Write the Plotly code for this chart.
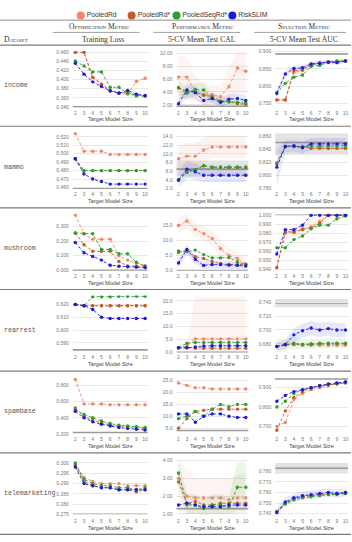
import plotly.graph_objects as go

W, H = 352, 542

# ---------------- data ----------------
X = [2, 3, 4, 5, 6, 7, 8, 9, 10]
SERIES = ["PooledRd", "PooledRd*", "PooledSeqRd*", "RiskSLIM"]
DATASETS = ["income", "mammo", "mushroom", "rearrest", "spambase", "telemarketing"]
GROUPS = ["Optimization Metric", "Performance Metric", "Selection Metric"]
METRICS = ["Training Loss", "5-CV Mean Test CAL", "5-CV Mean Test AUC"]
X_TITLE = "Target Model Size"
DATASET_HEADER = "Dataset"

# order of inner lists: PooledRd, PooledRd*, PooledSeqRd*, RiskSLIM
income_loss = [
    [0.460, 0.460, 0.405, 0.390, 0.376, 0.370, 0.368, 0.396, 0.403],
    [0.460, 0.460, 0.405, 0.390, 0.376, 0.371, 0.371, 0.366, 0.364],
    [0.441, 0.430, 0.417, 0.417, 0.383, 0.383, 0.370, 0.364, 0.364],
    [0.436, 0.412, 0.395, 0.385, 0.375, 0.370, 0.376, 0.368, 0.365],
]
income_cal = [
    [6.3, 6.3, 4.0, 3.6, 3.6, 3.3, 4.8, 7.7, 7.2],
    [4.7, 4.0, 4.0, 3.5, 3.3, 2.6, 2.5, 2.2, 2.1],
    [4.6, 3.8, 4.4, 4.3, 3.0, 2.5, 2.5, 2.4, 2.3],
    [2.2, 4.3, 3.9, 2.7, 3.0, 2.4, 2.9, 3.0, 2.7],
]
income_auc = [
    [0.760, 0.760, 0.840, 0.845, 0.862, 0.868, 0.870, 0.872, 0.873],
    [0.760, 0.760, 0.845, 0.847, 0.862, 0.866, 0.870, 0.871, 0.872],
    [0.778, 0.808, 0.826, 0.832, 0.857, 0.860, 0.870, 0.873, 0.873],
    [0.780, 0.835, 0.851, 0.853, 0.864, 0.866, 0.869, 0.868, 0.873],
]
mammo_loss = [
    [0.524, 0.503, 0.503, 0.503, 0.499, 0.499, 0.499, 0.499, 0.499],
    [0.494, 0.480, 0.480, 0.480, 0.480, 0.480, 0.480, 0.480, 0.480],
    [0.494, 0.480, 0.480, 0.480, 0.480, 0.480, 0.480, 0.480, 0.480],
    [0.494, 0.476, 0.470, 0.467, 0.464, 0.464, 0.464, 0.464, 0.464],
]
mammo_cal = [
    [8.9, 9.5, 9.5, 10.9, 11.6, 11.6, 11.6, 11.6, 11.6],
    [4.0, 5.8, 6.4, 7.3, 6.9, 6.9, 6.9, 6.9, 6.9],
    [4.0, 5.8, 6.4, 7.3, 7.0, 7.0, 7.0, 7.0, 7.0],
    [4.0, 6.5, 5.9, 5.1, 5.1, 5.1, 5.1, 5.1, 5.1],
]
mammo_auc = [
    [0.820, 0.845, 0.845, 0.845, 0.842, 0.842, 0.842, 0.842, 0.842],
    [0.818, 0.845, 0.845, 0.844, 0.842, 0.842, 0.842, 0.842, 0.842],
    [0.818, 0.845, 0.845, 0.845, 0.846, 0.846, 0.846, 0.846, 0.846],
    [0.813, 0.845, 0.846, 0.843, 0.849, 0.849, 0.849, 0.849, 0.849],
]
mushroom_loss = [
    [0.378, 0.250, 0.213, 0.213, 0.213, 0.100, 0.070, 0.050, 0.030],
    [0.255, 0.175, 0.130, 0.130, 0.130, 0.060, 0.030, 0.030, 0.020],
    [0.255, 0.250, 0.250, 0.143, 0.143, 0.113, 0.113, 0.055, 0.030],
    [0.190, 0.120, 0.095, 0.070, 0.035, 0.028, 0.025, 0.022, 0.020],
]
mushroom_cal = [
    [15.0, 16.5, 13.7, 12.3, 10.7, 7.3, 5.0, 4.0, 2.2],
    [6.0, 6.7, 4.6, 4.0, 3.0, 2.3, 2.0, 2.0, 2.0],
    [6.5, 6.3, 6.8, 5.3, 4.2, 4.2, 4.3, 2.9, 2.0],
    [2.5, 7.0, 3.7, 1.7, 2.0, 2.0, 1.8, 1.7, 1.5],
]
mushroom_auc = [
    [0.942, 0.980, 0.982, 0.985, 0.987, 0.993, 1.000, 1.000, 1.000],
    [0.942, 0.982, 0.981, 0.984, 0.986, 0.991, 1.000, 1.000, 1.000],
    [0.964, 0.964, 0.973, 0.977, 0.985, 0.989, 0.989, 0.996, 0.999],
    [0.957, 0.984, 0.984, 0.989, 1.000, 1.000, 1.000, 1.000, 1.000],
]
rearrest_loss = [
    [0.620, 0.619, 0.619, 0.619, 0.619, 0.619, 0.619, 0.619, 0.619],
    [0.620, 0.619, 0.619, 0.619, 0.619, 0.619, 0.619, 0.619, 0.619],
    [0.620, 0.619, 0.626, 0.626, 0.626, 0.6263, 0.6263, 0.6263, 0.6263],
    [0.620, 0.619, 0.616, 0.610, 0.609, 0.609, 0.609, 0.609, 0.609],
]
rearrest_cal = [
    [1.7, 2.5, 5.2, 5.2, 5.2, 5.2, 5.2, 5.2, 5.2],
    [1.7, 1.7, 1.5, 1.5, 1.5, 1.5, 1.5, 1.5, 1.5],
    [1.7, 3.5, 3.8, 3.8, 3.8, 3.8, 3.8, 3.8, 3.8],
    [1.7, 1.7, 2.0, 2.4, 2.5, 2.5, 2.5, 2.5, 2.5],
]
rearrest_auc = [
    [0.676, 0.678, 0.679, 0.678, 0.678, 0.678, 0.678, 0.678, 0.678],
    [0.676, 0.679, 0.679, 0.679, 0.679, 0.680, 0.680, 0.680, 0.680],
    [0.676, 0.679, 0.681, 0.679, 0.680, 0.681, 0.681, 0.681, 0.681],
    [0.676, 0.679, 0.693, 0.699, 0.703, 0.700, 0.702, 0.700, 0.700],
]
spambase_loss = [
    [0.870, 0.570, 0.570, 0.570, 0.560, 0.560, 0.560, 0.560, 0.560],
    [0.520, 0.420, 0.370, 0.340, 0.310, 0.300, 0.290, 0.280, 0.270],
    [0.500, 0.440, 0.400, 0.360, 0.330, 0.310, 0.300, 0.290, 0.280],
    [0.480, 0.400, 0.350, 0.320, 0.300, 0.280, 0.270, 0.260, 0.250],
]
spambase_cal = [
    [24.0, 23.0, 22.0, 22.0, 21.5, 21.5, 21.5, 21.5, 21.5],
    [5.0, 9.0, 12.0, 12.5, 13.0, 13.0, 13.0, 13.0, 13.0],
    [9.0, 10.0, 12.0, 10.0, 13.0, 15.0, 14.0, 15.0, 15.0],
    [11.0, 11.0, 7.5, 10.0, 11.0, 11.0, 10.0, 9.5, 9.5],
]
spambase_auc = [
    [0.700, 0.720, 0.840, 0.870, 0.890, 0.900, 0.910, 0.920, 0.925],
    [0.680, 0.780, 0.850, 0.880, 0.900, 0.910, 0.915, 0.920, 0.930],
    [0.800, 0.830, 0.870, 0.890, 0.900, 0.910, 0.915, 0.920, 0.925],
    [0.830, 0.860, 0.880, 0.890, 0.900, 0.910, 0.920, 0.925, 0.930],
]
telemarketing_loss = [
    [0.299, 0.293, 0.291, 0.290, 0.290, 0.290, 0.289, 0.289, 0.289],
    [0.299, 0.291, 0.289, 0.288, 0.288, 0.287, 0.287, 0.286, 0.287],
    [0.300, 0.292, 0.290, 0.289, 0.289, 0.288, 0.288, 0.287, 0.288],
    [0.298, 0.290, 0.289, 0.288, 0.288, 0.287, 0.287, 0.287, 0.287],
]
telemarketing_cal = [
    [3.0, 2.0, 1.9, 1.9, 1.9, 1.9, 1.8, 1.9, 1.9],
    [2.8, 1.6, 1.7, 1.5, 1.5, 1.6, 1.6, 1.6, 1.6],
    [3.3, 1.5, 1.5, 1.3, 1.5, 1.5, 1.4, 2.5, 2.5],
    [1.5, 1.6, 1.5, 1.4, 1.4, 1.4, 1.5, 1.5, 1.5],
]
telemarketing_auc = [
    [0.742, 0.750, 0.754, 0.757, 0.757, 0.758, 0.759, 0.759, 0.760],
    [0.742, 0.750, 0.754, 0.756, 0.757, 0.758, 0.758, 0.759, 0.759],
    [0.741, 0.749, 0.753, 0.755, 0.756, 0.757, 0.758, 0.758, 0.759],
    [0.741, 0.751, 0.755, 0.757, 0.758, 0.759, 0.760, 0.759, 0.760],
]

# reference (gray) values per dataset: loss, CAL, AUC
income_ref = [0.340, 1.8, 0.893]
mammo_ref = [0.4592, 6.5, 0.851]
mushroom_ref = [0.000, 0.0, 1.000]
rearrest_ref = [0.5845, 0.0, 0.739]
spambase_ref = [0.220, 4.0, 0.945]
telemarketing_ref = [0.2752, 1.3, 0.783]

# reference bands (lo, hi) where visible
mammo_cal_refband = (4.8, 8.5)
mammo_auc_refband = (0.832, 0.865)
income_auc_refband = (0.890, 0.896)
rearrest_auc_refband = (0.733, 0.745)
telemarketing_auc_refband = (0.778, 0.788)

# confidence bands (lo, hi) for some series
income_cal_bands = {
    "PooledRd": ([3.0, 3.0, 2.5, 2.3, 2.3, 2.0, 2.5, 4.0, 3.5],
                 [9.5, 9.5, 6.5, 5.5, 5.0, 5.0, 8.0, 10.3, 10.3]),
    "PooledSeqRd*": ([3.5, 2.8, 3.4, 3.3, 2.3, 1.9, 1.9, 1.9, 1.8],
                     [5.8, 4.8, 5.4, 5.3, 3.8, 3.2, 3.2, 3.0, 2.9]),
    "RiskSLIM": ([1.6, 3.2, 2.9, 2.0, 2.2, 1.8, 2.1, 2.2, 2.0],
                 [2.9, 5.3, 4.9, 3.5, 3.8, 3.1, 3.7, 3.8, 3.4]),
}
income_auc_bands = {
    "PooledRd": ([0.752, 0.752, 0.830, 0.836, 0.855, 0.861, 0.864, 0.866, 0.867],
                 [0.768, 0.768, 0.850, 0.854, 0.869, 0.874, 0.876, 0.878, 0.879]),
    "RiskSLIM": ([0.770, 0.826, 0.843, 0.846, 0.858, 0.860, 0.863, 0.862, 0.867],
                 [0.790, 0.844, 0.859, 0.860, 0.870, 0.872, 0.875, 0.874, 0.879]),
}
mammo_cal_bands = {
    "PooledRd": ([6.0, 6.5, 6.5, 8.0, 9.0, 9.0, 9.0, 9.0, 9.0],
                 [11.8, 12.5, 12.5, 13.8, 14.2, 14.2, 14.2, 14.2, 14.2]),
    "RiskSLIM": ([2.2, 4.5, 4.0, 3.5, 3.5, 3.5, 3.5, 3.5, 3.5],
                 [5.8, 8.5, 7.8, 6.7, 6.7, 6.7, 6.7, 6.7, 6.7]),
}
mammo_auc_bands = {
    "RiskSLIM": ([0.785, 0.836, 0.837, 0.834, 0.840, 0.840, 0.840, 0.840, 0.840],
                 [0.840, 0.854, 0.855, 0.852, 0.858, 0.858, 0.858, 0.858, 0.858]),
}
mushroom_cal_bands = {
    "PooledRd": ([12.5, 14.0, 11.2, 9.8, 8.2, 4.8, 2.5, 1.5, 0.5],
                 [17.5, 19.0, 16.2, 14.8, 13.2, 9.8, 7.5, 6.5, 3.9]),
    "RiskSLIM": ([1.0, 5.5, 2.2, 0.5, 0.6, 0.6, 0.5, 0.4, 0.3],
                 [4.0, 8.5, 5.2, 3.0, 3.4, 3.4, 3.1, 3.0, 2.7]),
}
mushroom_auc_bands = {
    "PooledRd": ([0.939, 0.974, 0.976, 0.979, 0.981, 0.987, 0.996, 0.996, 0.996],
                 [0.948, 0.986, 0.988, 0.991, 0.993, 0.999, 1.001, 1.001, 1.001]),
}
rearrest_cal_bands = {
    "PooledRd": ([1.2, 1.5, 0.0, 0.0, 0.0, 0.0, 0.0, 0.0, 0.0],
                 [2.2, 3.5, 21.5, 21.5, 21.5, 21.5, 21.5, 21.5, 21.5]),
}
rearrest_auc_bands = {
    "RiskSLIM": ([0.670, 0.672, 0.683, 0.689, 0.692, 0.690, 0.692, 0.690, 0.690],
                 [0.682, 0.686, 0.703, 0.709, 0.713, 0.710, 0.712, 0.710, 0.710]),
    "PooledSeqRd*": ([0.666, 0.671, 0.673, 0.672, 0.673, 0.674, 0.674, 0.674, 0.674],
                     [0.686, 0.687, 0.689, 0.687, 0.687, 0.688, 0.688, 0.688, 0.688]),
}
telemarketing_cal_bands = {
    "PooledRd": ([1.2, 1.0, 1.0, 1.0, 1.0, 1.0, 1.0, 1.0, 1.0],
                 [4.0, 3.5, 3.0, 3.0, 3.0, 3.0, 3.0, 3.2, 3.2]),
    "PooledSeqRd*": ([2.5, 1.0, 1.0, 0.9, 1.0, 1.0, 1.0, 1.2, 1.2],
                     [4.0, 2.1, 2.1, 1.8, 2.1, 2.1, 2.0, 3.9, 3.9]),
}
telemarketing_auc_bands = {
    "RiskSLIM": ([0.738, 0.747, 0.751, 0.753, 0.754, 0.755, 0.756, 0.755, 0.756],
                 [0.745, 0.755, 0.759, 0.761, 0.762, 0.763, 0.764, 0.763, 0.764]),
}

DATA = {
    "income": [income_loss, income_cal, income_auc],
    "mammo": [mammo_loss, mammo_cal, mammo_auc],
    "mushroom": [mushroom_loss, mushroom_cal, mushroom_auc],
    "rearrest": [rearrest_loss, rearrest_cal, rearrest_auc],
    "spambase": [spambase_loss, spambase_cal, spambase_auc],
    "telemarketing": [telemarketing_loss, telemarketing_cal, telemarketing_auc],
}
REFS = {
    "income": income_ref, "mammo": mammo_ref, "mushroom": mushroom_ref,
    "rearrest": rearrest_ref, "spambase": spambase_ref, "telemarketing": telemarketing_ref,
}
REF_BANDS = {
    ("mammo", 1): mammo_cal_refband, ("mammo", 2): mammo_auc_refband,
    ("income", 2): income_auc_refband, ("rearrest", 2): rearrest_auc_refband,
    ("telemarketing", 2): telemarketing_auc_refband,
}
SERIES_BANDS = {
    ("income", 1): income_cal_bands, ("income", 2): income_auc_bands,
    ("mammo", 1): mammo_cal_bands, ("mammo", 2): mammo_auc_bands,
    ("mushroom", 1): mushroom_cal_bands, ("mushroom", 2): mushroom_auc_bands,
    ("rearrest", 1): rearrest_cal_bands, ("rearrest", 2): rearrest_auc_bands,
    ("telemarketing", 1): telemarketing_cal_bands, ("telemarketing", 2): telemarketing_auc_bands,
}

# y tick labels per panel
Y_TICKS = {
    ("income", 0): [0.34, 0.36, 0.38, 0.40, 0.42, 0.44, 0.46],
    ("income", 1): [2, 4, 6, 8, 10],
    ("income", 2): [0.75, 0.80, 0.85, 0.90],
    ("mammo", 0): [0.46, 0.47, 0.48, 0.49, 0.50, 0.51, 0.52],
    ("mammo", 1): [2, 4, 6, 8, 10, 12, 14],
    ("mammo", 2): [0.78, 0.80, 0.82, 0.84, 0.86],
    ("mushroom", 0): [0.0, 0.1, 0.2, 0.3],
    ("mushroom", 1): [0, 5, 10, 15],
    ("mushroom", 2): [0.94, 0.95, 0.96, 0.97, 0.98, 0.99, 1.00],
    ("rearrest", 0): [0.59, 0.60, 0.61, 0.62],
    ("rearrest", 1): [0, 5, 10, 15, 20],
    ("rearrest", 2): [0.68, 0.70, 0.72, 0.74],
    ("spambase", 0): [0.2, 0.4, 0.6, 0.8],
    ("spambase", 1): [5, 10, 15, 20, 25],
    ("spambase", 2): [0.7, 0.8, 0.9],
    ("telemarketing", 0): [0.275, 0.280, 0.285, 0.290, 0.295, 0.300],
    ("telemarketing", 1): [1, 2, 3, 4],
    ("telemarketing", 2): [0.74, 0.75, 0.76, 0.77, 0.78],
}

# ---------------- layout / style ----------------
Y_RANGES = {
    ("income", 0): [0.3385, 0.464], ("income", 1): [1.6, 10.4], ("income", 2): [0.738, 0.903],
    ("mammo", 0): [0.458, 0.5255], ("mammo", 1): [1.9, 15.0], ("mammo", 2): [0.779, 0.867],
    ("mushroom", 0): [-0.003, 0.386], ("mushroom", 1): [-0.1, 18.9], ("mushroom", 2): [0.9385, 1.0015],
    ("rearrest", 0): [0.5825, 0.627], ("rearrest", 1): [-0.1, 22.1], ("rearrest", 2): [0.6675, 0.750],
    ("spambase", 0): [0.2, 0.9], ("spambase", 1): [2.5, 26.5], ("spambase", 2): [0.66, 0.955],
    ("telemarketing", 0): [0.2745, 0.302], ("telemarketing", 1): [0.9, 4.1], ("telemarketing", 2): [0.738, 0.792],
}
Y_FMT = {
    0: (".3f", ""), 1: (".1f", "%"), 2: (".3f", ""),
}
CAL_2DEC = {"income", "telemarketing"}

COLORS = {"PooledRd": "#f0876a", "PooledRd*": "#c65a2b",
          "PooledSeqRd*": "#2ca02c", "RiskSLIM": "#1a1ae0"}
RGB = {"PooledRd": (240, 135, 106), "PooledRd*": (198, 90, 43),
       "PooledSeqRd*": (44, 160, 44), "RiskSLIM": (26, 26, 224)}

ROW_TOP0, ROW_H = 43.0, 82.4
COL_DOM_PX = [(73, 148), (177, 249), (276, 349)]
COL_XRANGE = [(1.714, 10.286), (1.763, 10.296), (1.826, 10.29)]
TICK_FONT = dict(family="Liberation Sans", size=5, color="#777777")


def px_x(p):
    return p / W


def px_y(p):
    return 1 - p / H


def axid(k):
    return "" if k == 1 else str(k)


fig = go.Figure()
shapes, annotations = [], []
layout = dict(width=W, height=H, margin=dict(l=0, r=0, t=0, b=0),
              paper_bgcolor="white", plot_bgcolor="white", showlegend=False)

for r, ds in enumerate(DATASETS):
    top = ROW_TOP0 + r * ROW_H
    for c in range(3):
        k = r * 3 + c + 1
        xa, ya = "x" + axid(k), "y" + axid(k)
        key = (ds, c)
        # series confidence bands
        for s, (lo, hi) in SERIES_BANDS.get(key, {}).items():
            rr, gg, bb = RGB[s]
            fig.add_trace(go.Scatter(
                x=X + X[::-1], y=hi + lo[::-1], fill="toself",
                fillcolor=f"rgba({rr},{gg},{bb},0.10)", line=dict(width=0),
                mode="lines", hoverinfo="skip", showlegend=False, xaxis=xa, yaxis=ya))
        # series lines
        for s, vals in zip(SERIES, DATA[ds][c]):
            fig.add_trace(go.Scatter(
                x=X, y=vals, mode="lines+markers", name=s,
                line=dict(color=COLORS[s], width=0.9, dash="3px,2px"),
                marker=dict(color=COLORS[s], size=3.4),
                showlegend=False, xaxis=xa, yaxis=ya))
        # reference band and line
        if key in REF_BANDS:
            lo, hi = REF_BANDS[key]
            shapes.append(dict(type="rect", xref=f"{xa} domain", yref=ya, x0=0, x1=1,
                               y0=lo, y1=hi, fillcolor="rgba(150,150,150,0.28)",
                               line=dict(width=0), layer="below"))
        shapes.append(dict(type="line", xref=f"{xa} domain", yref=ya, x0=0, x1=1,
                           y0=REFS[ds][c], y1=REFS[ds][c],
                           line=dict(color="#9a9a9a", width=1.6), layer="below"))
        # axes
        d0, d1 = COL_DOM_PX[c]
        fmt, suf = Y_FMT[c]
        if c == 1 and ds in CAL_2DEC:
            fmt = ".2f"
        layout["xaxis" + axid(k)] = dict(
            domain=[px_x(d0), px_x(d1)], range=list(COL_XRANGE[c]), anchor=ya,
            tickvals=X, ticktext=[str(v) for v in X], tickfont=TICK_FONT,
            showgrid=False, zeroline=False, showline=False, ticks="",
            ticklabelstandoff=1, fixedrange=True)
        layout["yaxis" + axid(k)] = dict(
            domain=[px_y(top + 63.5), px_y(top + 6)], range=Y_RANGES[key], anchor=xa,
            tickvals=Y_TICKS[key], tickformat=fmt, ticksuffix=suf, tickfont=TICK_FONT,
            showgrid=True, gridcolor="#e8e8e8", gridwidth=0.6, zeroline=False,
            showline=False, ticks="", ticklabelstandoff=3, fixedrange=True)
        annotations.append(dict(
            text=X_TITLE, xref="paper", yref="paper", showarrow=False,
            x=px_x((d0 + d1) / 2), y=px_y(top + 75.5), xanchor="center", yanchor="middle",
            font=dict(family="Liberation Sans", size=5.6, color="#444444")))
    # dataset label
    annotations.append(dict(
        text=ds, xref="paper", yref="paper", showarrow=False,
        x=px_x(2), y=px_y(top + ROW_H / 2), xanchor="left", yanchor="middle",
        font=dict(family="Liberation Mono", size=6.6, color="#555555")))
    # separator
    shapes.append(dict(type="line", xref="paper", yref="paper", x0=0, x1=1,
                       y0=px_y(top + ROW_H), y1=px_y(top + ROW_H),
                       line=dict(color="#7a7a7a", width=1.2)))

# header
SERIF = "Liberation Serif"
GROUP_X = [100, 204, 305]
METRIC_X = [103, 203, 305]
UNDERLINE = [(53, 140), (154, 241), (255, 347)]
for g, m, gx, mx, (u0, u1) in zip(GROUPS, METRICS, GROUP_X, METRIC_X, UNDERLINE):
    annotations.append(dict(text=g, xref="paper", yref="paper", showarrow=False,
                            x=px_x(gx), y=px_y(24.5), xanchor="center", yanchor="middle",
                            font=dict(family=SERIF, size=7.6, color="#333333", variant="small-caps")))
    annotations.append(dict(text=m, xref="paper", yref="paper", showarrow=False,
                            x=px_x(mx), y=px_y(37.5), xanchor="center", yanchor="middle",
                            font=dict(family=SERIF, size=7.6, color="#333333")))
    shapes.append(dict(type="line", xref="paper", yref="paper", x0=px_x(u0), x1=px_x(u1),
                       y0=px_y(30.7), y1=px_y(30.7), line=dict(color="#888888", width=0.8)))
annotations.append(dict(text=DATASET_HEADER, xref="paper", yref="paper", showarrow=False,
                        x=px_x(2), y=px_y(37.5), xanchor="left", yanchor="middle",
                        font=dict(family=SERIF, size=7.6, color="#333333", variant="small-caps")))
shapes.append(dict(type="line", xref="paper", yref="paper", x0=0, x1=1,
                   y0=px_y(18.3), y1=px_y(18.3), line=dict(color="#8a8a8a", width=1)))
shapes.append(dict(type="line", xref="paper", yref="paper", x0=0, x1=1,
                   y0=px_y(43.5), y1=px_y(43.5), line=dict(color="#7a7a7a", width=1.2)))

# legend (own hidden axis in pixel units)
LEGEND_X = [81, 132, 177, 233]
LEGEND_Y = 13.5
fig.add_trace(go.Scatter(
    x=LEGEND_X, y=[LEGEND_Y] * 4, mode="markers+text", text=SERIES,
    textposition="middle right",
    textfont=dict(family="Liberation Sans", size=6.8, color="#333333"),
    marker=dict(size=8, color=[COLORS[s] for s in SERIES]),
    hoverinfo="skip", showlegend=False, xaxis="x19", yaxis="y19", cliponaxis=False))
layout["xaxis19"] = dict(domain=[0, 1], range=[0, W], visible=False, fixedrange=True, anchor="y19")
layout["yaxis19"] = dict(domain=[px_y(18), 1], range=[18, 0], visible=False, fixedrange=True, anchor="x19")

layout["shapes"] = shapes
layout["annotations"] = annotations
fig.update_layout(**layout)
fig.write_html("out.html")
